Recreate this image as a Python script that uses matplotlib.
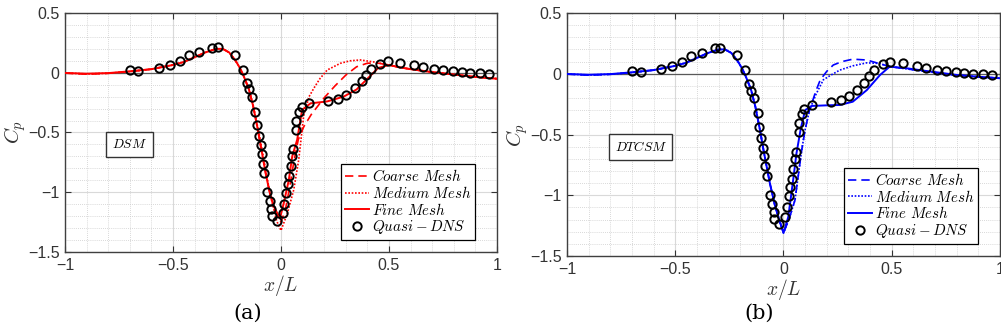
import numpy as np
import matplotlib
matplotlib.use('Agg')
import matplotlib.pyplot as plt
from matplotlib.ticker import MultipleLocator

plt.rcParams['mathtext.fontset'] = 'cm'
plt.rcParams['font.family'] = ['Liberation Sans', 'DejaVu Sans']

# ===================== Quasi-DNS (same in both panels) =====================
dns_x = [-0.70, -0.66, -0.565, -0.514, -0.467, -0.427, -0.378, -0.318, -0.293,
         -0.215, -0.178, -0.159, -0.150, -0.134, -0.119, -0.111, -0.102, -0.093,
         -0.090, -0.085, -0.077, -0.063, -0.053, -0.045, -0.042, -0.020, 0.009,
         0.015, 0.025, 0.032, 0.039, 0.045, 0.053, 0.056, 0.070, 0.071, 0.085,
         0.096, 0.130, 0.219, 0.264, 0.301, 0.341, 0.374, 0.394, 0.417, 0.460,
         0.494, 0.551, 0.615, 0.658, 0.707, 0.751, 0.795, 0.836, 0.876, 0.923, 0.964]
dns_y = [0.020, 0.015, 0.040, 0.063, 0.100, 0.146, 0.170, 0.208, 0.216,
         0.152, 0.027, -0.082, -0.140, -0.200, -0.326, -0.440, -0.530, -0.607,
         -0.680, -0.760, -0.840, -0.996, -1.070, -1.140, -1.195, -1.240, -1.175,
         -1.095, -1.010, -0.930, -0.865, -0.780, -0.700, -0.640, -0.476, -0.407, -0.330,
         -0.290, -0.256, -0.235, -0.220, -0.187, -0.130, -0.073, -0.020, 0.030, 0.077,
         0.099, 0.085, 0.063, 0.050, 0.033, 0.020, 0.018, 0.008, -0.004, -0.004, -0.012]

# ===================== DSM (a) =====================
dsm_fine_x = [-1.0, -0.9, -0.8, -0.7, -0.6, -0.5, -0.45, -0.4, -0.35, -0.3, -0.27, -0.24,
              -0.21, -0.19, -0.17, -0.15, -0.13, -0.11, -0.09, -0.07, -0.05, -0.03, -0.005,
              0.013, 0.036, 0.052, 0.075, 0.098, 0.137, 0.214, 0.29, 0.35, 0.4, 0.45, 0.5,
              0.55, 0.6, 0.7, 0.8, 0.9, 1.0]
dsm_fine_y = [-0.002, -0.008, -0.003, 0.012, 0.03, 0.065, 0.09, 0.13, 0.17, 0.2, 0.2, 0.17,
              0.1, 0.04, -0.04, -0.13, -0.27, -0.45, -0.65, -0.85, -1.02, -1.13, -1.22,
              -1.09, -0.9, -0.7, -0.56, -0.31, -0.256, -0.24, -0.2, -0.14, -0.05, 0.04, 0.065,
              0.045, 0.03, 0.005, -0.015, -0.035, -0.05]

dsm_coarse_x = [-1.0, -0.9, -0.8, -0.7, -0.6, -0.5, -0.45, -0.4, -0.35, -0.3, -0.27, -0.24,
                -0.21, -0.19, -0.17, -0.15, -0.13, -0.11, -0.09, -0.07, -0.05, -0.03, 0.0,
                0.02, 0.04, 0.06, 0.08, 0.106, 0.14, 0.2, 0.25, 0.3, 0.35, 0.4, 0.45, 0.5,
                0.55, 0.6, 0.7, 0.8, 0.9, 1.0]
dsm_coarse_y = [-0.003, -0.012, -0.005, 0.01, 0.03, 0.065, 0.09, 0.13, 0.17, 0.2, 0.2, 0.17,
                0.1, 0.04, -0.04, -0.13, -0.27, -0.45, -0.65, -0.85, -1.02, -1.14, -1.25,
                -1.15, -0.96, -0.74, -0.56, -0.45, -0.35, -0.21, -0.11, -0.02, 0.05, 0.08, 0.08, 0.065,
                0.045, 0.03, 0.005, -0.015, -0.035, -0.05]

dsm_medium_x = [-1.0, -0.9, -0.8, -0.7, -0.6, -0.5, -0.45, -0.4, -0.35, -0.3, -0.27, -0.24,
                -0.21, -0.19, -0.17, -0.15, -0.13, -0.1, -0.07, -0.05, -0.02, 0.0,
                0.029, 0.059, 0.082, 0.105, 0.13, 0.152, 0.18, 0.214, 0.275, 0.32, 0.368, 0.43, 0.5,
                0.55, 0.6, 0.7, 0.8, 0.9, 1.0]
dsm_medium_y = [-0.002, -0.01, -0.004, 0.01, 0.03, 0.065, 0.09, 0.13, 0.17, 0.2, 0.2, 0.17,
                0.1, 0.04, -0.04, -0.13, -0.26, -0.52, -0.82, -1.02, -1.24, -1.32,
                -1.18, -0.98, -0.73, -0.36, -0.2, -0.13, -0.05, 0.023, 0.079, 0.1, 0.107, 0.09, 0.065,
                0.045, 0.03, 0.005, -0.015, -0.035, -0.05]

# ===================== DTCSM (b) =====================
dtc_fine_x = [-1.0, -0.9, -0.8, -0.7, -0.6, -0.5, -0.45, -0.4, -0.35, -0.3, -0.27, -0.24,
              -0.21, -0.19, -0.17, -0.15, -0.13, -0.11, -0.09, -0.063, -0.04, -0.02, 0.0,
              0.022, 0.045, 0.06, 0.08, 0.1, 0.13, 0.2, 0.26, 0.32, 0.385, 0.446, 0.49,
              0.57, 0.65, 0.72, 0.8, 0.9, 1.0]
dtc_fine_y = [-0.002, -0.008, -0.003, 0.012, 0.03, 0.065, 0.09, 0.13, 0.17, 0.2, 0.2, 0.17,
              0.1, 0.04, -0.04, -0.13, -0.27, -0.45, -0.65, -0.9, -1.08, -1.2, -1.31,
              -1.18, -0.87, -0.655, -0.45, -0.3, -0.265, -0.26, -0.257, -0.23, -0.134, -0.01, 0.058,
              0.045, 0.025, 0.009, -0.01, -0.025, -0.037]

dtc_coarse_x = [-1.0, -0.9, -0.8, -0.7, -0.6, -0.5, -0.45, -0.4, -0.35, -0.3, -0.27, -0.24,
                -0.21, -0.19, -0.17, -0.15, -0.13, -0.11, -0.09, -0.063, -0.04, -0.02, 0.0,
                0.025, 0.053, 0.084, 0.1, 0.12, 0.15, 0.17, 0.2, 0.23, 0.27, 0.32, 0.385, 0.44, 0.49,
                0.57, 0.65, 0.72, 0.8, 0.9, 1.0]
dtc_coarse_y = [-0.003, -0.012, -0.005, 0.01, 0.03, 0.065, 0.09, 0.13, 0.17, 0.2, 0.2, 0.17,
                0.1, 0.04, -0.04, -0.13, -0.27, -0.45, -0.65, -0.9, -1.08, -1.2, -1.31,
                -1.2, -1.04, -0.63, -0.46, -0.3, -0.14, -0.05, 0.02, 0.072, 0.1, 0.12, 0.113, 0.085, 0.06,
                0.04, 0.02, 0.005, -0.012, -0.025, -0.037]

dtc_medium_x = [-1.0, -0.9, -0.8, -0.7, -0.6, -0.5, -0.45, -0.4, -0.35, -0.3, -0.27, -0.24,
                -0.21, -0.19, -0.17, -0.15, -0.13, -0.11, -0.09, -0.063, -0.04, -0.02, 0.0,
                0.025, 0.053, 0.084, 0.1, 0.12, 0.15, 0.184, 0.22, 0.26, 0.32, 0.385, 0.44, 0.49,
                0.57, 0.65, 0.72, 0.8, 0.9, 1.0]
dtc_medium_y = [-0.002, -0.01, -0.004, 0.01, 0.03, 0.065, 0.09, 0.13, 0.17, 0.2, 0.2, 0.17,
                0.1, 0.04, -0.04, -0.13, -0.27, -0.45, -0.65, -0.9, -1.08, -1.2, -1.31,
                -1.2, -1.04, -0.63, -0.46, -0.3, -0.17, -0.05, -0.01, 0.03, 0.065, 0.09, 0.085, 0.06,
                0.04, 0.02, 0.005, -0.012, -0.025, -0.037]

labels = [r'$Coarse\ Mesh$', r'$Medium\ Mesh$', r'$Fine\ Mesh$', r'$Quasi-DNS$']
xtick_vals = [-1, -0.5, 0, 0.5, 1]
xtick_text = ['\u22121', '\u22120.5', '0', '0.5', '1']
ytick_vals = [-1.5, -1, -0.5, 0, 0.5]
ytick_text = ['\u22121.5', '\u22121', '\u22120.5', '0', '0.5']

fig = plt.figure(figsize=(10.01, 3.35), dpi=100)
ax1 = fig.add_axes([0.0649, 0.2478, 0.4316, 0.7134])
ax2 = fig.add_axes([0.5664, 0.2358, 0.4326, 0.7254])


def panel(ax, color, cx, cy, mx, my, fx, fy, tag, tag_x, sub, sub_x):
    ax.axhline(0, color='0.35', lw=0.9, zorder=1)
    ax.plot(cx, cy, color=color, ls=(0, (5, 3)), lw=1.2, label=labels[0], zorder=3)
    ax.plot(mx, my, color=color, ls=(0, (1, 1)), lw=1.2, label=labels[1], zorder=3)
    ax.plot(fx, fy, color=color, ls='-', lw=1.4, label=labels[2], zorder=3)
    ax.plot(dns_x, dns_y, 'o', mfc='none', mec='black', mew=1.4, ms=6,
            label=labels[3], zorder=4)
    ax.set_xlim(-1, 1)
    ax.set_ylim(-1.5, 0.5)
    ax.xaxis.set_minor_locator(MultipleLocator(0.1))
    ax.yaxis.set_minor_locator(MultipleLocator(0.1))
    ax.set_xticks(xtick_vals)
    ax.set_xticklabels(xtick_text)
    ax.set_yticks(ytick_vals)
    ax.set_yticklabels(ytick_text)
    ax.grid(which='major', color='0.85', lw=0.8, ls='-', zorder=0)
    ax.grid(which='minor', color='0.8', lw=0.6, ls=(0, (1, 1.5)), zorder=0)
    ax.set_axisbelow(True)
    ax.tick_params(which='major', direction='in', length=4, top=True, right=True,
                   labelsize=11.5, color='0.2', labelcolor='0.2', pad=4)
    ax.tick_params(which='minor', length=0)
    for s in ax.spines.values():
        s.set_color('0.25')
        s.set_linewidth(1.0)
    ax.set_xlabel(r'$x/L$', fontsize=14, color='0.2', labelpad=0)
    ax.set_ylabel(r'$C_p$', fontsize=15, color='0.2', labelpad=0)
    ax.text(tag_x, -0.6, tag, fontsize=9.5, ha='center', va='center',
            bbox=dict(boxstyle='square,pad=0.45', fc='white', ec='0.2', lw=1.0), zorder=5)
    leg = ax.legend(loc='lower right', bbox_to_anchor=(0.95, 0.05), fontsize=10.8,
                    frameon=True, fancybox=False, edgecolor='black', framealpha=1,
                    handlelength=1.6, handletextpad=0.2, borderpad=0.25,
                    labelspacing=0.05, borderaxespad=0)
    leg.get_frame().set_linewidth(0.9)
    fig.text(sub_x, 0.035, sub, fontsize=15, ha='center', va='bottom',
             family='DejaVu Serif')


panel(ax1, 'red', dsm_coarse_x, dsm_coarse_y, dsm_medium_x, dsm_medium_y,
      dsm_fine_x, dsm_fine_y, r'$DSM$', -0.70, '(a)', 0.247)
panel(ax2, 'blue', dtc_coarse_x, dtc_coarse_y, dtc_medium_x, dtc_medium_y,
      dtc_fine_x, dtc_fine_y, r'$DTCSM$', -0.66, '(b)', 0.758)

fig.savefig('out.png', dpi=100)
